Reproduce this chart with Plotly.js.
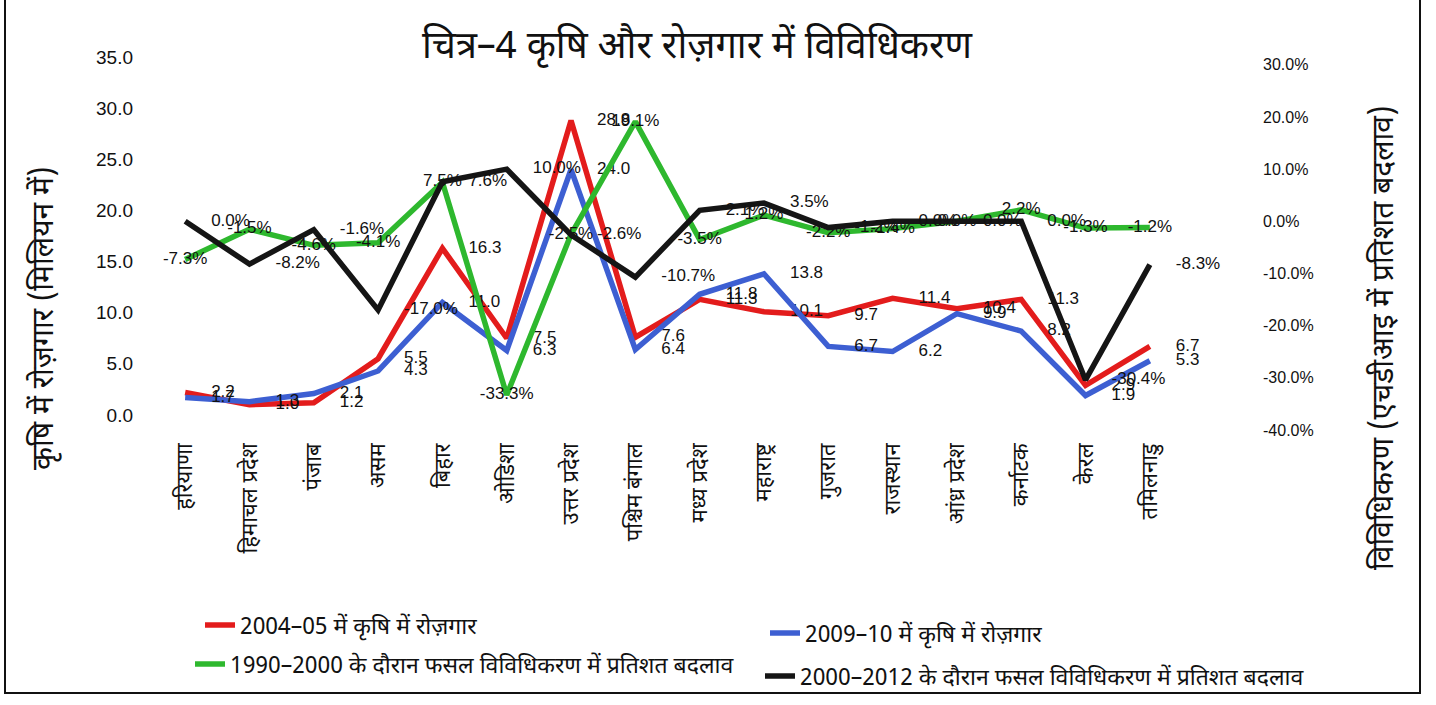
<!DOCTYPE html>
<html><head><meta charset="utf-8">
<script src="https://cdn.plot.ly/plotly-3.0.1.min.js"></script>
<style>body{margin:0;background:#fff}#chart{width:1436px;height:705px}</style>
</head><body><div id="chart"></div>
<script>
const states = ['हरियाणा','हिमाचल प्रदेश','पंजाब','असम','बिहार','ओडिशा','उत्तर प्रदेश','पश्चिम बंगाल','मध्य प्रदेश','महाराष्ट्र','गुजरात','राजस्थान','आंध्र प्रदेश','कर्नाटक','केरल','तमिलनाडु'];
const emp2004 = [2.2, 1.0, 1.2, 5.5, 16.3, 7.5, 28.8, 7.6, 11.3, 10.1, 9.7, 11.4, 10.4, 11.3, 2.9, 6.7];
const emp2009 = [1.7, 1.3, 2.1, 4.3, 11.0, 6.3, 24.0, 6.4, 11.8, 13.8, 6.7, 6.2, 9.9, 8.2, 1.9, 5.3];
const div9000 = [-7.3, -1.5, -4.6, -4.1, 7.5, -33.3, -2.5, 19.1, -3.5, 1.2, -2.2, -1.4, 0.0, 2.2, -1.3, -1.2];
const div0012 = [0.0, -8.2, -1.6, -17.0, 7.6, 10.0, -2.6, -10.7, 2.1, 3.5, -1.2, 0.0, 0.0, 0.0, -30.4, -8.3];
const leftTicks = [0, 5, 10, 15, 20, 25, 30, 35];
const leftTickText = ['0.0', '5.0', '10.0', '15.0', '20.0', '25.0', '30.0', '35.0'];
const rightTicks = [-40, -30, -20, -10, 0, 10, 20, 30];
const rightTickText = ['-40.0%', '-30.0%', '-20.0%', '-10.0%', '0.0%', '10.0%', '20.0%', '30.0%'];
const names = ['2004–05 में कृषि में रोज़गार','2009–10 में कृषि में रोज़गार','1990–2000 के दौरान फसल विविधिकरण में प्रतिशत बदलाव','2000–2012 के दौरान फसल विविधिकरण में प्रतिशत बदलाव'];

const DEV = 'Noto Sans Devanagari, Lohit Devanagari, Mukta, FreeSans, Noto Sans, sans-serif';
const NUM = 'Liberation Sans Narrow, Arial Narrow, Liberation Sans, Arial, sans-serif';
const lblFont = {family: NUM, size: 17, color: '#111'};

function tr(y, name, color, axis, pos, tmpl, leg) {
  return {
    x: states, y: y, name: name, type: 'scatter', mode: 'lines+markers+text',
    yaxis: axis, legend: leg,
    line: {color: color, width: 5.5},
    marker: {size: 40, color: 'rgba(0,0,0,0)', line: {width: 0}},
    texttemplate: tmpl, textposition: pos, textfont: lblFont,
    hoverinfo: 'skip', cliponaxis: false
  };
}
const data = [
  tr(emp2004, names[0], '#e31c1c', 'y', 'middle right', '%{y:.1f}', 'legend'),
  tr(emp2009, names[1], '#3d5fd2', 'y', 'middle right', '%{y:.1f}', 'legend2'),
  tr(div9000, names[2], '#2eb82e', 'y2', 'middle center', '%{y:.1f}%', 'legend3'),
  tr(div0012, names[3], '#151515', 'y2', 'middle right', '%{y:.1f}%', 'legend4')
];

const L = 133, R = 1262, T = 57, B = 430;
const W = R - L, H = B - T;
const px = v => (v - L) / W;
const py = v => (B - v) / H;
const cx = v => v / 1436;
const cy = v => 1 - v / 705;

function leg(x, y) {
  return {orientation: 'h', xref: 'container', yref: 'container', x: cx(x), xanchor: 'left',
          y: cy(y), yanchor: 'middle', font: {family: DEV, size: 23, color: '#111'},
          bgcolor: 'rgba(0,0,0,0)', borderwidth: 0};
}

const layout = {
  width: 1436, height: 705,
  margin: {l: L, r: 1436 - R, t: T, b: 705 - B, autoexpand: false},
  paper_bgcolor: '#fff', plot_bgcolor: '#fff',
  showlegend: true,
  title: {text: 'चित्र–4 कृषि और रोज़गार में विविधिकरण', font: {family: DEV, size: 38, color: '#111'},
          x: 697/1436, xref: 'container', xanchor: 'center', y: 1 - 45/705, yref: 'container', yanchor: 'middle'},
  xaxis: {type: 'category', domain: [px(153), px(1182)], range: [-0.5, 15.5],
          showgrid: false, zeroline: false, showline: false, ticks: '', tickangle: -90,
          ticklabelstandoff: 8,
          tickfont: {family: DEV, size: 22, color: '#111'}, automargin: false},
  yaxis: {range: [-1.47, 35], tickmode: 'array', tickvals: leftTicks, ticktext: leftTickText,
          anchor: 'free', position: 0,
          showgrid: false, zeroline: false, showline: false, ticks: '',
          tickfont: {family: NUM, size: 19, color: '#111'}, automargin: false},
  yaxis2: {range: [-40, 31.5], tickmode: 'array', tickvals: rightTicks, ticktext: rightTickText,
           overlaying: 'y', side: 'right', anchor: 'free', position: 1,
           showgrid: false, zeroline: false, showline: false, ticks: '',
           tickfont: {family: NUM, size: 16, color: '#111'}, automargin: false},
  legend: leg(200, 625),
  legend2: leg(765, 633),
  legend3: leg(190, 664),
  legend4: leg(760, 676),
  annotations: [
    {text: 'कृषि में रोज़गार (मिलियन में)', xref: 'paper', yref: 'paper', x: px(45), y: py(318),
     xanchor: 'center', yanchor: 'middle',
     textangle: -90, showarrow: false, font: {family: DEV, size: 30, color: '#111'}},
    {text: 'विविधिकरण (एचडीआइ में प्रतिशत बदलाव)', xref: 'paper', yref: 'paper', x: px(1385), y: py(338),
     xanchor: 'center', yanchor: 'middle',
     textangle: -90, showarrow: false, font: {family: DEV, size: 30, color: '#111'}}
  ],
  shapes: [
    {type: 'rect', xref: 'paper', yref: 'paper', x0: px(5), x1: px(1420), y0: py(693), y1: py(-5),
     line: {color: '#111', width: 2}, fillcolor: 'rgba(0,0,0,0)'}
  ]
};
Plotly.newPlot('chart', data, layout, {displayModeBar: false, staticPlot: true});
</script></body></html>
